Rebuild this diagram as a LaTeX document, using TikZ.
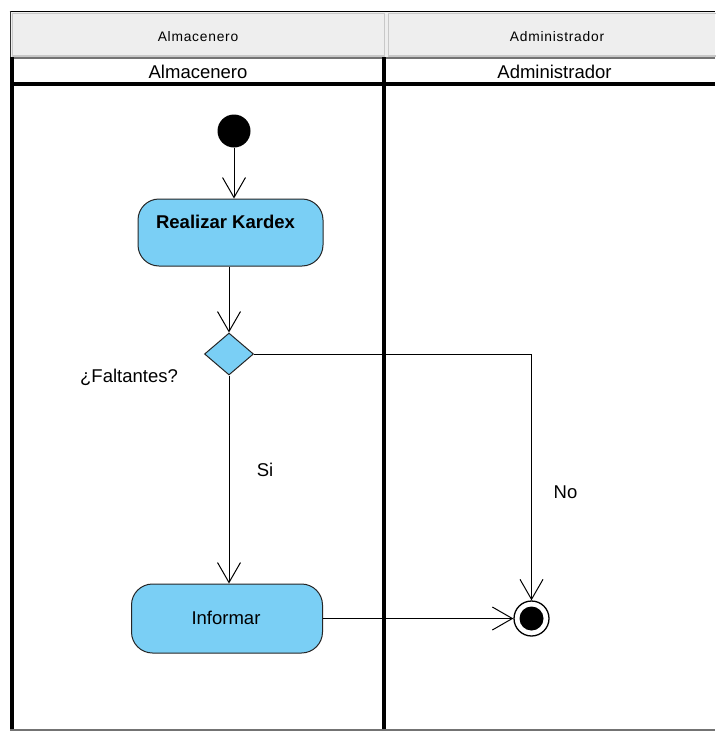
\documentclass[tikz,border=0pt]{standalone}
\usepackage{fontspec}
\setmainfont{Liberation Sans}
\newfontfamily\hdrfont[LetterSpace=5.5]{Liberation Sans}
\usetikzlibrary{arrows.meta,shapes.geometric}
\definecolor{actfill}{RGB}{122,207,245}
\definecolor{hdrgray}{RGB}{238,238,238}
\definecolor{hdredge}{RGB}{200,200,200}
\tikzset{
  lanetitle/.style={font=\hdrfont\fontsize{13.8}{15}\selectfont, inner sep=0pt, anchor=center},
  lanename/.style={font=\fontsize{18.5}{20}\selectfont, inner sep=0pt, anchor=center},
  activity/.style={draw=black!85, line width=1pt, fill=actfill, rounded corners=21pt, inner sep=0pt},
  plain/.style={font=\fontsize{18.5}{20}\selectfont, inner sep=0pt, anchor=center},
  flow/.style={line width=1pt, -{Straight Barb[length=20pt,width=23pt,line width=1pt]}},
  lane/.style={line width=3.6pt, black}
}
\begin{document}
\begin{tikzpicture}[x=1pt,y=-1pt]
\useasboundingbox (0,0) rectangle (715,731);
\fill[white] (0,0) rectangle (715,731);

% header band with the two lane titles
\fill[hdrgray] (10,11) rectangle (715,57);
\draw[hdredge, line width=1.2pt] (12.5,13.5) rectangle (384.5,56);
\draw[hdredge, line width=1.2pt] (388.5,13.5) rectangle (720,56);
\draw[black, line width=1pt] (9.5,11) -- (715,11);
\draw[black!80, line width=1pt] (10,11) -- (10,57);
\draw[black!55, line width=1.2pt] (10,58) -- (715,58);
\node[lanetitle] (t1) at (198,37) {Almacenero};
\node[lanetitle] (t2) at (557,37) {Administrador};

% swimlane frame
\draw[lane] (11.8,57) -- (11.8,731);
\draw[lane] (384.2,57) -- (384.2,731);
\draw[lane] (10,84) -- (715,84);
\draw[black!55, line width=1.5pt] (10,730) -- (715,730);
\node[lanename] (n1) at (198,71.5) {Almacenero};
\node[lanename] (n2) at (554.5,71.5) {Administrador};

% activity nodes
\node[circle, fill=black, minimum size=33pt, inner sep=0pt] (init) at (234,131) {};
\node[activity, minimum width=185pt, minimum height=67pt] (kardex) at (230.5,232.5) {};
\node[plain, font=\bfseries\fontsize{18.5}{20}\selectfont] (kardexlbl) at (225.5,221.5) {Realizar Kardex};
\node[diamond, draw=black!85, line width=1pt, fill=actfill, minimum width=49pt, minimum height=42pt, inner sep=0pt, aspect=1.17] (dec) at (229,354) {};
\node[activity, minimum width=191pt, minimum height=69pt] (inf) at (227,618.5) {};
\node[plain] (inflbl) at (226,618) {Informar};
\node[circle, draw=black, line width=1.3pt, fill=white, minimum size=35pt, inner sep=0pt] (fin) at (531.5,618.5) {};
\node[circle, fill=black, minimum size=24pt, inner sep=0pt] (fincore) at (fin.center) {};

% labels
\node[plain] (q) at (129,377.5) {¿Faltantes?};
\node[plain] (si) at (265,470) {Si};
\node[plain] (no) at (565.5,492) {No};

% control flows
\draw[flow] (init.south) -- (init.south |- kardex.north);
\draw[flow] (dec.north |- kardex.south) -- (dec.north);
\draw[flow] (dec.south) -- (dec.south |- inf.north);
\draw[flow] (dec.east) -| (fin.north);
\draw[flow] (inf.east |- fin.west) -- (fin.west);
\end{tikzpicture}
\end{document}
